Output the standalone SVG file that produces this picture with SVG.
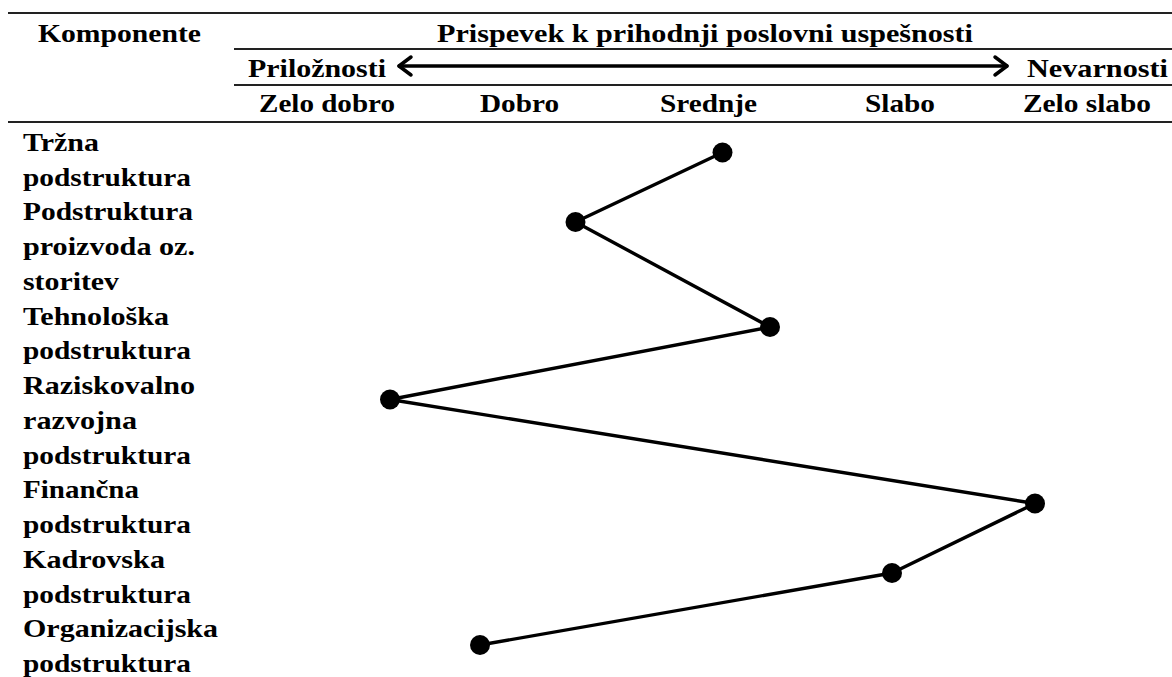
<svg xmlns="http://www.w3.org/2000/svg" width="1172" height="677" viewBox="0 0 1172 677">
<style>
text{font-family:"Liberation Serif","Times New Roman",serif;font-weight:bold;font-size:26px;fill:#000}
.rule{stroke:#222;stroke-width:2;fill:none}
.conn{stroke:#000;stroke-width:3.4;fill:none;stroke-linejoin:round}
.dot{fill:#000}
.arr{stroke:#000;stroke-width:3.5;fill:none;stroke-linecap:round;stroke-linejoin:round}
</style>
<rect width="1172" height="677" fill="#fff"/>
<g id="header">
<line class="rule" x1="8" y1="13" x2="1172" y2="13"/>
<line class="rule" x1="234" y1="49" x2="1172" y2="49"/>
<line class="rule" x1="234" y1="85" x2="1172" y2="85"/>
<line class="rule" x1="8" y1="122" x2="1172" y2="122"/>
<text x="38" y="42" textLength="163" lengthAdjust="spacingAndGlyphs">Komponente</text>
<text x="437" y="42" textLength="536" lengthAdjust="spacingAndGlyphs">Prispevek k prihodnji  poslovni uspešnosti</text>
<text x="248" y="77" textLength="138" lengthAdjust="spacingAndGlyphs">Priložnosti</text>
<text x="1027" y="77" textLength="141" lengthAdjust="spacingAndGlyphs">Nevarnosti</text>
<line class="arr" x1="399" y1="66" x2="1007" y2="66"/>
<polyline class="arr" points="411,57 399,66 411,75"/>
<polyline class="arr" points="995,57 1007,66 995,75"/>
<text x="259" y="112" textLength="136" lengthAdjust="spacingAndGlyphs">Zelo dobro</text>
<text x="480" y="112" textLength="79" lengthAdjust="spacingAndGlyphs">Dobro</text>
<text x="660" y="112" textLength="97" lengthAdjust="spacingAndGlyphs">Srednje</text>
<text x="865" y="112" textLength="70" lengthAdjust="spacingAndGlyphs">Slabo</text>
<text x="1023" y="112" textLength="128" lengthAdjust="spacingAndGlyphs">Zelo slabo</text>
</g>
<g id="labels">
<text x="23" y="150.7" textLength="76" lengthAdjust="spacingAndGlyphs">Tržna</text>
<text x="23" y="185.5" textLength="168" lengthAdjust="spacingAndGlyphs">podstruktura</text>
<text x="23" y="220.2" textLength="170" lengthAdjust="spacingAndGlyphs">Podstruktura</text>
<text x="23" y="255" textLength="172" lengthAdjust="spacingAndGlyphs">proizvoda oz.</text>
<text x="23" y="289.7" textLength="96" lengthAdjust="spacingAndGlyphs">storitev</text>
<text x="23" y="324.5" textLength="146" lengthAdjust="spacingAndGlyphs">Tehnološka</text>
<text x="23" y="359.2" textLength="168" lengthAdjust="spacingAndGlyphs">podstruktura</text>
<text x="23" y="394" textLength="172" lengthAdjust="spacingAndGlyphs">Raziskovalno</text>
<text x="23" y="428.7" textLength="114" lengthAdjust="spacingAndGlyphs">razvojna</text>
<text x="23" y="463.5" textLength="168" lengthAdjust="spacingAndGlyphs">podstruktura</text>
<text x="23" y="498.2" textLength="116" lengthAdjust="spacingAndGlyphs">Finančna</text>
<text x="23" y="533" textLength="168" lengthAdjust="spacingAndGlyphs">podstruktura</text>
<text x="23" y="567.7" textLength="142" lengthAdjust="spacingAndGlyphs">Kadrovska</text>
<text x="23" y="602.5" textLength="168" lengthAdjust="spacingAndGlyphs">podstruktura</text>
<text x="23" y="637.2" textLength="195" lengthAdjust="spacingAndGlyphs">Organizacijska</text>
<text x="23" y="672" textLength="168" lengthAdjust="spacingAndGlyphs">podstruktura</text>
</g>
<g id="connectors">
<polyline class="conn" points="722.5,152.5 575.5,222 770,327 390,399.5 1035,503.5 892,573 480,645"/>
</g>
<g id="n1"><circle class="dot" cx="722.5" cy="152.5" r="10"/></g>
<g id="n2"><circle class="dot" cx="575.5" cy="222" r="10"/></g>
<g id="n3"><circle class="dot" cx="770" cy="327" r="10"/></g>
<g id="n4"><circle class="dot" cx="390" cy="399.5" r="10"/></g>
<g id="n5"><circle class="dot" cx="1035" cy="503.5" r="10"/></g>
<g id="n6"><circle class="dot" cx="892" cy="573" r="10"/></g>
<g id="n7"><circle class="dot" cx="480" cy="645" r="10"/></g>
</svg>
